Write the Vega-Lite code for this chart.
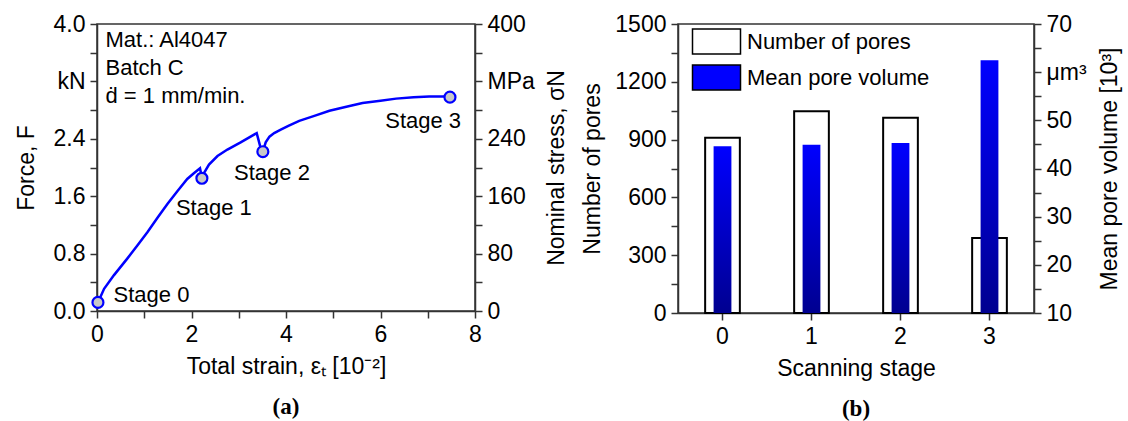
{
  "$schema": "https://vega.github.io/schema/vega-lite/v6.json",
  "background": "white",
  "padding": {"left": 14, "top": 12, "right": 4, "bottom": 2},
  "spacing": 11,
  "resolve": {"legend": {"fill": "independent"}},
  "datasets": {
    "curve": [
      {"strain": 0.02, "force": 0.12}, {"strain": 0.15, "force": 0.31}, {"strain": 0.36, "force": 0.50},
      {"strain": 0.64, "force": 0.73}, {"strain": 0.85, "force": 0.91}, {"strain": 1.07, "force": 1.10},
      {"strain": 1.28, "force": 1.30}, {"strain": 1.49, "force": 1.49}, {"strain": 1.70, "force": 1.67},
      {"strain": 1.91, "force": 1.84}, {"strain": 2.05, "force": 1.92}, {"strain": 2.18, "force": 1.99},
      {"strain": 2.22, "force": 1.86}, {"strain": 2.27, "force": 1.93}, {"strain": 2.37, "force": 2.04},
      {"strain": 2.55, "force": 2.16}, {"strain": 2.76, "force": 2.25}, {"strain": 3.04, "force": 2.35},
      {"strain": 3.38, "force": 2.48}, {"strain": 3.46, "force": 2.28}, {"strain": 3.51, "force": 2.22},
      {"strain": 3.57, "force": 2.35}, {"strain": 3.65, "force": 2.43}, {"strain": 3.75, "force": 2.48},
      {"strain": 3.90, "force": 2.53}, {"strain": 4.05, "force": 2.58}, {"strain": 4.28, "force": 2.65},
      {"strain": 4.60, "force": 2.72}, {"strain": 4.92, "force": 2.79}, {"strain": 5.30, "force": 2.85},
      {"strain": 5.62, "force": 2.90}, {"strain": 6.00, "force": 2.93}, {"strain": 6.33, "force": 2.96},
      {"strain": 6.70, "force": 2.98}, {"strain": 7.03, "force": 2.99}, {"strain": 7.47, "force": 2.99}
    ],
    "stages": [
      {"stage": "Stage 0", "strain": 0.02, "force": 0.12},
      {"stage": "Stage 1", "strain": 2.22, "force": 1.85},
      {"stage": "Stage 2", "strain": 3.51, "force": 2.22},
      {"stage": "Stage 3", "strain": 7.47, "force": 2.98}
    ],
    "notes": [
      {"label": "Mat.: Al4047", "strain": 0.18, "force": 3.78},
      {"label": "Batch C", "strain": 0.18, "force": 3.39},
      {"label": "ḋ = 1 mm/min.", "strain": 0.18, "force": 2.99},
      {"label": "Stage 0", "strain": 0.35, "force": 0.22},
      {"label": "Stage 1", "strain": 1.67, "force": 1.44},
      {"label": "Stage 2", "strain": 2.90, "force": 1.93},
      {"label": "Stage 3", "strain": 6.10, "force": 2.65}
    ],
    "pores": [
      {"stage": 0, "pores": 910, "volume": 44.6},
      {"stage": 1, "pores": 1047, "volume": 44.95},
      {"stage": 2, "pores": 1014, "volume": 45.3},
      {"stage": 3, "pores": 389, "volume": 62.5}
    ]
  },
  "hconcat": [
    {
      "width": 378,
      "height": 287,
      "title": {"text": "(a)"},
      "layer": [
        {
          "data": {"name": "curve"},
          "mark": {"type": "line", "color": "#0000ff", "strokeWidth": 2.5},
          "encoding": {
            "x": {"field": "strain", "type": "quantitative", "scale": {"domain": [0, 8], "nice": false},
              "axis": {"title": "Total strain, εₜ [10⁻²]", "values": [0, 1, 2, 3, 4, 5, 6, 7, 8],
                "labelExpr": "datum.value % 2 == 0 ? datum.label : ''", "titlePadding": 9}},
            "y": {"field": "force", "type": "quantitative", "scale": {"domain": [0, 4], "nice": false},
              "axis": {"title": "Force, F", "orient": "left",
                "values": [0, 0.4, 0.8, 1.2, 1.6, 2, 2.4, 2.8, 3.2, 3.6, 4],
                "labelExpr": "round(datum.value*10) % 8 == 0 ? (abs(datum.value-3.2) < 0.01 ? 'kN' : format(datum.value, '.1f')) : ''",
                "titlePadding": 15}}
          }
        },
        {
          "data": {"name": "stages"},
          "mark": {"type": "point", "shape": "circle", "filled": true, "fill": "#c8c8c8", "stroke": "#0000ff", "strokeWidth": 2.2, "size": 120, "opacity": 1},
          "encoding": {
            "x": {"field": "strain", "type": "quantitative"},
            "y": {"field": "force", "type": "quantitative", "scale": {"domain": [0, 4], "nice": false},
              "axis": {"title": "Nominal stress, σN", "orient": "right", "titleAngle": 270, "titleBaseline": "top",
                "values": [0, 0.4, 0.8, 1.2, 1.6, 2, 2.4, 2.8, 3.2, 3.6, 4],
                "labelExpr": "round(datum.value*10) % 8 == 0 ? (abs(datum.value-3.2) < 0.01 ? 'MPa' : format(datum.value*100, 'd')) : ''",
                "titlePadding": 11}}
          }
        },
        {
          "data": {"name": "notes"},
          "mark": {"type": "text", "align": "left", "baseline": "middle", "font": "Liberation Sans", "fontSize": 22, "color": "black"},
          "encoding": {
            "x": {"field": "strain", "type": "quantitative"},
            "y": {"field": "force", "type": "quantitative", "scale": {"domain": [0, 4], "nice": false}, "axis": null},
            "text": {"field": "label"}
          }
        }
      ],
      "resolve": {"scale": {"y": "independent"}}
    },
    {
      "width": 356,
      "height": 289,
      "title": {"text": "(b)"},
      "data": {"name": "pores"},
      "layer": [
        {
          "mark": {"type": "bar", "stroke": "black", "strokeWidth": 2, "width": {"band": 0.39}},
          "encoding": {
            "x": {"field": "stage", "type": "ordinal", "scale": {"paddingInner": 0, "paddingOuter": 0},
              "axis": {"title": "Scanning stage", "labelAngle": 0, "titlePadding": 9}},
            "y": {"field": "pores", "type": "quantitative", "scale": {"domain": [0, 1500], "nice": false},
              "axis": {"title": "Number of pores", "orient": "left",
                "values": [0, 150, 300, 450, 600, 750, 900, 1050, 1200, 1350, 1500],
                "labelExpr": "datum.value % 300 == 0 ? format(datum.value, 'd') : ''", "titlePadding": 10}},
            "fill": {"datum": "Number of pores", "type": "nominal",
              "scale": {"domain": ["Number of pores", "Mean pore volume"], "range": ["white", "#0000ff"]},
              "legend": {
                "title": null, "orient": "top-left", "offset": 4, "padding": 0,
                "symbolType": "M-0.24,-1H3.6V1H-0.24Z", "symbolSize": 625,
                "labelFont": "Liberation Sans", "labelFontSize": 22, "labelColor": "black",
                "labelOffset": 38, "rowPadding": 5, "labelLimit": 400,
                "encode": {"symbols": {"update": {
                  "fill": [
                    {"test": "datum.value === 'Mean pore volume'", "value": {"gradient": "linear", "x1": 0, "y1": 0, "x2": 0, "y2": 1, "stops": [{"offset": 0, "color": "#0000ff"}, {"offset": 1, "color": "#000090"}]}},
                    {"value": "white"}
                  ],
                  "stroke": [
                    {"test": "datum.value === 'Mean pore volume'", "value": "#2a2aff"},
                    {"value": "black"}
                  ],
                  "strokeWidth": {"value": 2}
                }}}
              }}
          }
        },
        {
          "mark": {"type": "bar", "width": {"band": 0.2},
            "fill": {"gradient": "linear", "x1": 0, "y1": 0, "x2": 0, "y2": 1, "stops": [{"offset": 0, "color": "#0000ff"}, {"offset": 1, "color": "#000090"}]}},
          "encoding": {
            "x": {"field": "stage", "type": "ordinal"},
            "y": {"field": "volume", "type": "quantitative", "scale": {"domain": [10, 70], "nice": false, "zero": false},
              "axis": {"title": "Mean pore volume [10³]", "orient": "right", "titleAngle": 270, "titleBaseline": "top",
                "values": [10, 15, 20, 25, 30, 35, 40, 45, 50, 55, 60, 65, 70],
                "labelExpr": "datum.value == 60 ? 'μm³' : (datum.value % 10 == 0 ? format(datum.value, 'd') : '')",
                "titlePadding": 12}},
            "y2": {"datum": 10}
          }
        }
      ],
      "resolve": {"scale": {"y": "independent"}}
    }
  ],
  "config": {
    "font": "Liberation Sans",
    "view": {"stroke": "#333333", "strokeWidth": 1.5},
    "axis": {
      "labelFont": "Liberation Sans", "labelFontSize": 23, "labelColor": "black",
      "titleFont": "Liberation Sans", "titleFontSize": 23, "titleFontWeight": "normal", "titleColor": "black",
      "domainColor": "#333333", "domainWidth": 1.5, "tickColor": "#333333", "tickWidth": 1.5, "tickSize": 7,
      "labelPadding": 5, "grid": false, "labelFlush": false, "labelOverlap": false, "labelBound": false
    },
    "title": {"font": "Liberation Serif", "fontSize": 23, "fontWeight": "bold", "color": "black", "orient": "bottom", "offset": 18}
  }
}
